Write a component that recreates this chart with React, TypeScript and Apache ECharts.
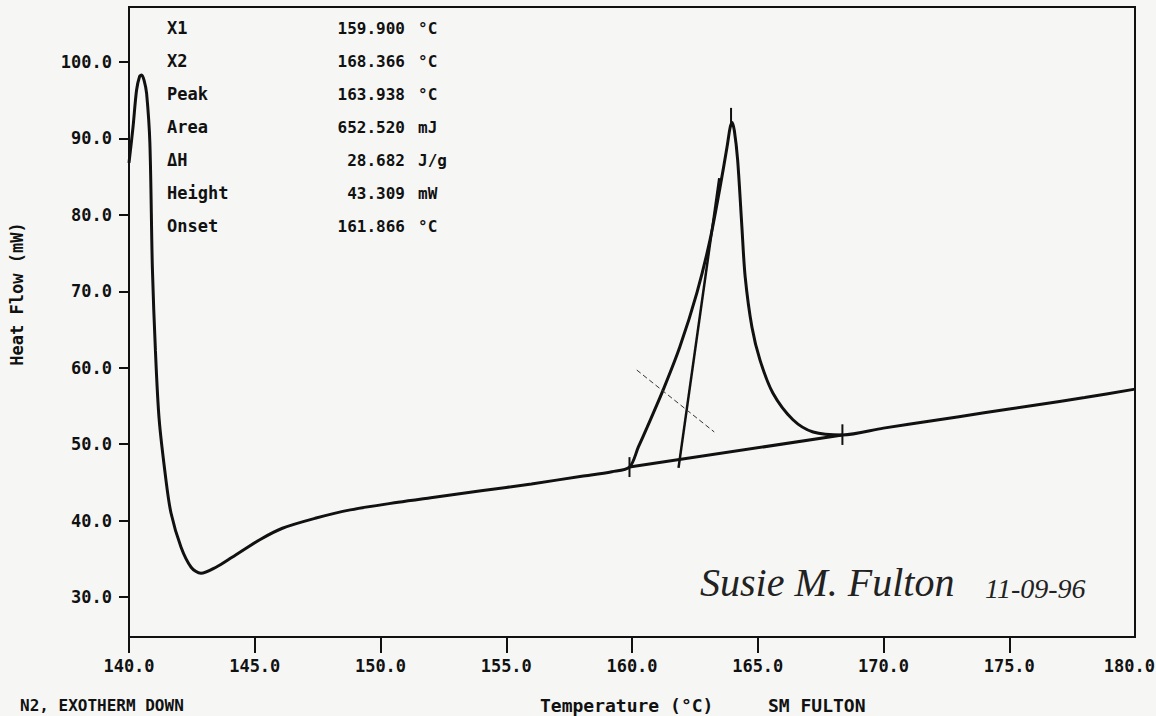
import React, { useEffect, useRef } from "react";
import * as echarts from "echarts";

// Measured DSC curve (temperature °C, heat flow mW)
const CURVE_T = [
  140.0, 140.16, 140.3, 140.42, 140.5, 140.6, 140.7, 140.83, 140.93, 141.05, 141.2, 141.47, 141.67,
  142.07, 142.47, 142.86, 143.46, 144.1, 145.2, 146.1, 147.4, 148.8, 150.7, 152.0, 154.0, 156.0,
  158.0, 159.2, 159.9, 160.25, 160.6, 161.24, 161.9, 162.58, 163.1, 163.5, 163.78, 163.9, 163.98,
  164.07, 164.2, 164.37, 164.5, 164.77, 165.09, 165.6, 166.4, 167.2, 168.37, 170.0, 172.0, 174.0,
  176.0, 178.0, 180.0,
];
const CURVE_HF = [
  86.8, 91.5, 96.3, 98.1, 98.3, 97.6, 95.9, 89.4, 73.0, 62.3, 53.2, 45.3, 41.0,
  36.5, 33.9, 33.1, 33.9, 35.2, 37.5, 39.0, 40.3, 41.4, 42.4, 43.0, 43.9, 44.8,
  45.8, 46.4, 47.0, 49.6, 52.2, 57.1, 62.7, 69.8, 76.7, 83.6, 88.9, 91.4, 92.1,
  91.0, 87.2, 78.4, 71.9, 65.3, 61.0, 56.7, 53.2, 51.6, 51.2, 52.1, 53.1, 54.1,
  55.1, 56.1, 57.2,
];

// Interpolated baseline between X1 and X2
const BASE_T = [159.9, 168.366];
const BASE_HF = [47.0, 51.2];

// Onset tangent line
const TANGENT_T = [161.85, 163.47];
const TANGENT_HF = [46.9, 84.8];

// Thin dashed helper line
const DASH_T = [160.19, 163.27];
const DASH_HF = [59.7, 51.6];

// Vertical marker ticks: x, lower, upper
const MARK_T = [159.9, 168.366, 163.938];
const MARK_LO = [45.7, 49.9, 92.0];
const MARK_HI = [48.3, 52.6, 94.0];

// Results table
const INFO_LABELS = ["X1", "X2", "Peak", "Area", "\u0394H", "Height", "Onset"];
const INFO_VALUES = ["159.900", "168.366", "163.938", "652.520", "28.682", "43.309", "161.866"];
const INFO_UNITS = ["\u00B0C", "\u00B0C", "\u00B0C", "mJ", "J/g", "mW", "\u00B0C"];

const X_MAX_LABEL = "180.0";
const Y_TICKS = [30, 40, 50, 60, 70, 80, 90, 100];

const FONT = "DejaVu Sans Mono";
const INK = "#111111";

function pairs(xs: number[], ys: number[]) {
  return xs.map((x, i) => [x, ys[i]]);
}

export default function App() {
  const ref = useRef<HTMLDivElement>(null);

  useEffect(() => {
    if (!ref.current) return;
    const chart = echarts.init(ref.current, null, { renderer: "svg" });

    const lineBase = {
      type: "line",
      symbol: "none",
      silent: true,
      animation: false,
    };

    const markSeries = MARK_T.map((x, i) => ({
      ...lineBase,
      name: "mark" + i,
      data: [
        [x, MARK_LO[i]],
        [x, MARK_HI[i]],
      ],
      lineStyle: { color: INK, width: 2 },
    }));

    const infoGraphics: any[] = [];
    INFO_LABELS.forEach((lab, i) => {
      const y = 28 + i * 33;
      infoGraphics.push({
        type: "text",
        x: 167,
        y: y,
        style: {
          text: lab,
          font: `bold 17px "${FONT}"`,
          fill: INK,
          align: "left",
          verticalAlign: "middle",
        },
      });
      infoGraphics.push({
        type: "text",
        x: 405,
        y: y,
        style: {
          text: INFO_VALUES[i],
          font: `bold 16px "${FONT}"`,
          fill: INK,
          align: "right",
          verticalAlign: "middle",
        },
      });
      infoGraphics.push({
        type: "text",
        x: 418,
        y: y,
        style: {
          text: INFO_UNITS[i],
          font: `bold 16px "${FONT}"`,
          fill: INK,
          align: "left",
          verticalAlign: "middle",
        },
      });
    });

    chart.setOption({
      animation: false,
      backgroundColor: "#f6f7f5",
      grid: {
        left: 129,
        right: 21,
        top: 7,
        bottom: 79,
        outerBoundsMode: "none",
        containLabel: false,
        show: true,
        borderColor: INK,
        borderWidth: 2,
        backgroundColor: "transparent",
      },
      xAxis: {
        type: "value",
        min: 140,
        max: 180,
        interval: 5,
        axisLine: { show: true, lineStyle: { color: INK, width: 2 } },
        axisTick: { show: true, length: 16, lineStyle: { color: INK, width: 2 } },
        axisLabel: {
          margin: 20,
          color: INK,
          fontFamily: FONT,
          fontWeight: "bold",
          fontSize: 17,
          showMaxLabel: false,
          formatter: (v: number) => v.toFixed(1),
        },
        splitLine: { show: false },
      },
      yAxis: {
        type: "value",
        min: 24.77,
        max: 107.2,
        axisLine: { show: true, lineStyle: { color: INK, width: 2 } },
        axisTick: {
          show: true,
          length: 10,
          customValues: Y_TICKS,
          lineStyle: { color: INK, width: 2 },
        },
        axisLabel: {
          margin: 17,
          color: INK,
          fontFamily: FONT,
          fontWeight: "bold",
          fontSize: 17,
          customValues: Y_TICKS,
          formatter: (v: number) => v.toFixed(1),
        },
        splitLine: { show: false },
      },
      series: [
        {
          ...lineBase,
          name: "Heat Flow",
          data: pairs(CURVE_T, CURVE_HF),
          smooth: 0.3,
          lineStyle: { color: INK, width: 3 },
        },
        {
          ...lineBase,
          name: "Baseline",
          data: pairs(BASE_T, BASE_HF),
          lineStyle: { color: INK, width: 3 },
        },
        {
          ...lineBase,
          name: "Onset tangent",
          data: pairs(TANGENT_T, TANGENT_HF),
          lineStyle: { color: INK, width: 2.5 },
        },
        {
          ...lineBase,
          name: "Helper",
          data: pairs(DASH_T, DASH_HF),
          lineStyle: { color: "#333", width: 1, type: [5, 3] },
        },
        ...markSeries,
      ],
      graphic: [
        ...infoGraphics,
        {
          type: "text",
          x: 1155,
          y: 666,
          style: {
            text: X_MAX_LABEL,
            font: `bold 17px "${FONT}"`,
            fill: INK,
            align: "right",
            verticalAlign: "middle",
          },
        },
        {
          type: "text",
          x: 17,
          y: 294,
          rotation: Math.PI / 2,
          style: {
            text: "Heat Flow (mW)",
            font: `bold 17px "${FONT}"`,
            fill: INK,
            align: "center",
            verticalAlign: "middle",
          },
        },
        {
          type: "text",
          x: 20,
          y: 705,
          style: {
            text: "N2, EXOTHERM DOWN",
            font: `bold 16px "${FONT}"`,
            fill: INK,
            align: "left",
            verticalAlign: "middle",
          },
        },
        {
          type: "text",
          x: 540,
          y: 705,
          style: {
            text: "Temperature (\u00B0C)",
            font: `bold 18px "${FONT}"`,
            fill: INK,
            align: "left",
            verticalAlign: "middle",
          },
        },
        {
          type: "text",
          x: 768,
          y: 705,
          style: {
            text: "SM FULTON",
            font: `bold 18px "${FONT}"`,
            fill: INK,
            align: "left",
            verticalAlign: "middle",
          },
        },
        {
          type: "text",
          x: 700,
          y: 602,
          style: {
            text: "Susie M. Fulton",
            font: `italic 40px "Liberation Serif"`,
            fill: "#222",
            align: "left",
            verticalAlign: "bottom",
          },
        },
        {
          type: "text",
          x: 985,
          y: 602,
          style: {
            text: "11-09-96",
            font: `italic 28px "Liberation Serif"`,
            fill: "#222",
            align: "left",
            verticalAlign: "bottom",
          },
        },
      ],
    });

    return () => chart.dispose();
  }, []);

  return (
    <div
      ref={ref}
      style={{ position: "absolute", left: 0, top: 0, width: 1156, height: 716 }}
    />
  );
}
